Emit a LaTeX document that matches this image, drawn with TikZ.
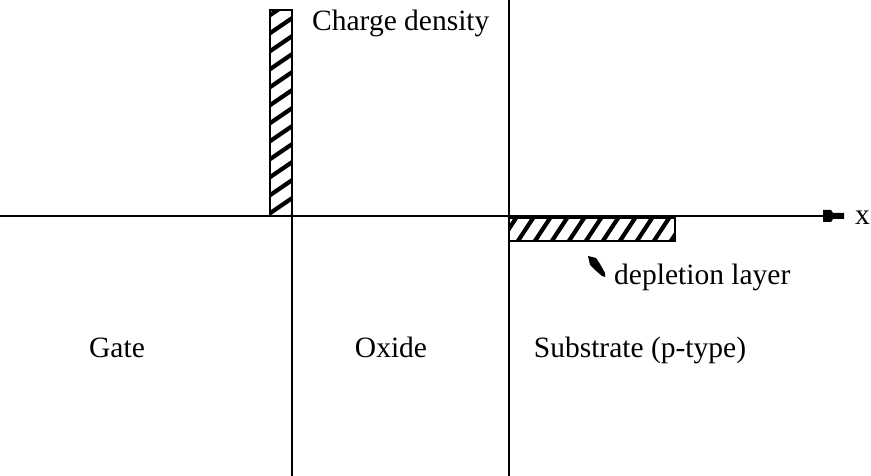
\documentclass[tikz,border=0pt]{standalone}
\usepackage{fontspec}
\setmainfont{Liberation Serif}
\usetikzlibrary{arrows.meta}
\begin{document}
\begin{tikzpicture}[x=1pt,y=-1pt,
  axisline/.style={line width=1.3pt,black},
  hatchbox/.style={line width=2.4pt,black},
  hatchline/.style={line width=4.2pt,black},
  headfill/.style={fill=black,draw=none},
  lbl/.style={font=\fontsize{29.5}{34}\selectfont,inner sep=0pt,anchor=base}]
\useasboundingbox (0,0) rectangle (871,476);
% hatched charge boxes
\begin{scope}
  \clip (270,10) rectangle (292,216);
  \foreach \k in {0,...,13} {\draw[hatchline] (260,22+18*\k) -- ++(44,-30);}
\end{scope}
\draw[hatchbox] (270,10) rectangle (292,216);
\begin{scope}
  \clip (509,218) rectangle (675,241);
  \foreach \k in {0,...,11} {\draw[hatchline] (495+17*\k,250) -- ++(27,-41);}
\end{scope}
\draw[hatchbox] (509,218) rectangle (675,241);
% axes and boundaries
\coordinate (xl) at (0,216);
\coordinate (xr) at (823,216);
\coordinate (g1) at (292,10);
\coordinate (g2) at (292,476);
\coordinate (s1) at (509,0);
\coordinate (s2) at (509,476);
\draw[axisline] (xl) -- (xr);
\fill[headfill] (xr) ++(0,-6) -- ++(8,0) -- ++(2,3) -- ++(11,0) -- ++(0,6) -- ++(-11,0) -- ++(-2,3) -- ++(-8,0) -- cycle;
\draw[axisline] (g1) -- (g2);
\draw[axisline] (s1) -- (s2);
% labels
\node[lbl,anchor=base west] (xlab) at (855,225) {x};
\node[lbl,anchor=base west] (cd) at (312,31) {Charge density};
\node[lbl] (gate) at (117,357) {Gate};
\node[lbl] (ox) at (391,357) {Oxide};
\node[lbl] (sub) at (640,357) {Substrate (p-type)};
\node[lbl,anchor=base west] (dep) at (614,284) {depletion layer};
\coordinate (da) at (588,256);
\fill[headfill] (da) -- (596,258) -- (600,264) -- (605,273) -- (605,277) -- (602,276) -- (595,270) -- (590,265) -- cycle;
\end{tikzpicture}
\end{document}
